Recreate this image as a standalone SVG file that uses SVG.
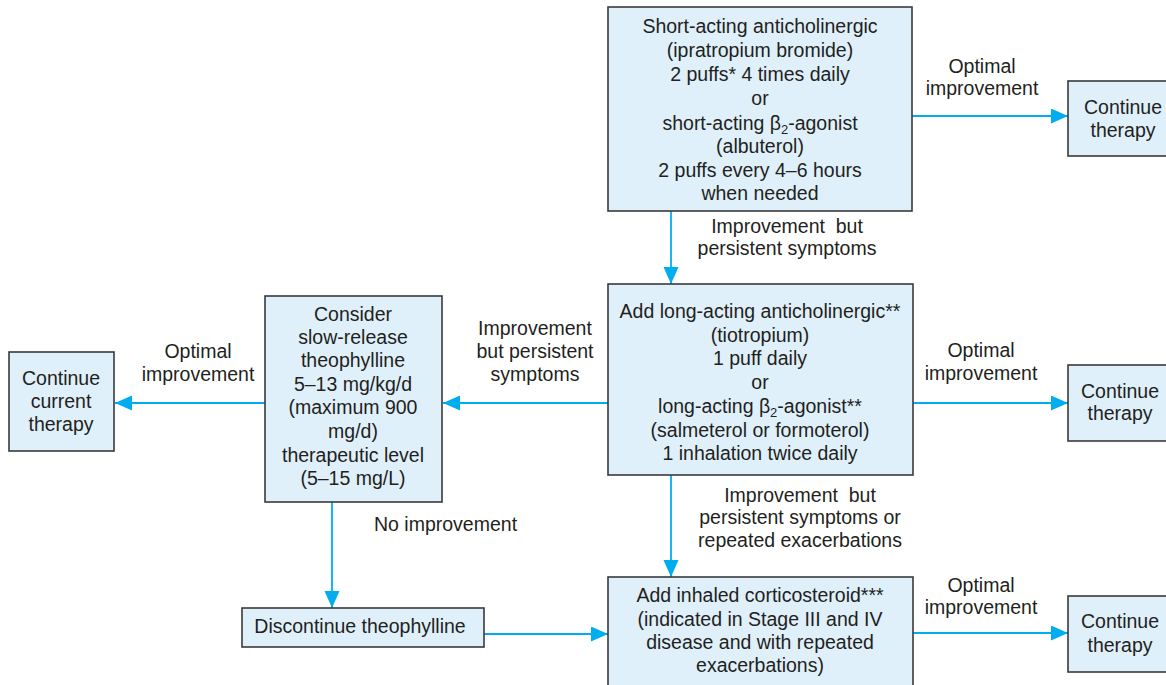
<svg xmlns="http://www.w3.org/2000/svg" width="1166" height="685" viewBox="0 0 1166 685">
<style>
.box{fill:#dff0fb;stroke:#3a3a3a;stroke-width:1.6}
.t{font-family:"Liberation Sans",Arial,sans-serif;font-size:19.5px;fill:#231f20;text-anchor:middle}
.l{font-family:"Liberation Sans",Arial,sans-serif;font-size:19.5px;fill:#231f20;text-anchor:middle}
.c{fill:none;stroke:#00aeef;stroke-width:1.8}
.sub{font-size:13px}
.pre{white-space:pre}
</style>
<defs>
<marker id="ah" markerUnits="userSpaceOnUse" markerWidth="18" markerHeight="16" refX="17" refY="7.5" orient="auto">
<path d="M0,0 L17,7.5 L0,15 z" fill="#00aeef"/>
</marker>
</defs>
<g id="connectors">
<path class="c" d="M912,116 H1068" marker-end="url(#ah)"/>
<path class="c" d="M671,211 V284" marker-end="url(#ah)"/>
<path class="c" d="M913,403 H1068" marker-end="url(#ah)"/>
<path class="c" d="M608,403 H443" marker-end="url(#ah)"/>
<path class="c" d="M265,403 H115" marker-end="url(#ah)"/>
<path class="c" d="M332,502 V608" marker-end="url(#ah)"/>
<path class="c" d="M671,475 V577" marker-end="url(#ah)"/>
<path class="c" d="M484,634 H608" marker-end="url(#ah)"/>
<path class="c" d="M913,633 H1068" marker-end="url(#ah)"/>
</g>
<g id="labels">
<text class="l" x="982" y="73">Optimal</text>
<text class="l" x="982" y="95">improvement</text>
<text class="l pre" x="787" y="233" xml:space="preserve">Improvement  but</text>
<text class="l" x="787" y="255">persistent symptoms</text>
<text class="l" x="981" y="357">Optimal</text>
<text class="l" x="981" y="380">improvement</text>
<text class="l" x="535" y="335">Improvement</text>
<text class="l" x="535" y="358">but persistent</text>
<text class="l" x="535" y="381">symptoms</text>
<text class="l" x="198" y="358">Optimal</text>
<text class="l" x="198" y="381">improvement</text>
<text class="l" x="374" y="531" style="text-anchor:start">No improvement</text>
<text class="l pre" x="800" y="502" xml:space="preserve">Improvement  but</text>
<text class="l" x="800" y="524">persistent symptoms or</text>
<text class="l" x="800" y="547">repeated exacerbations</text>
<text class="l" x="981" y="592">Optimal</text>
<text class="l" x="981" y="614">improvement</text>
</g>
<g id="short-acting">
<rect class="box" x="608" y="7" width="304" height="204"/>
<text class="t" x="760" y="33">Short-acting anticholinergic</text>
<text class="t" x="760" y="57">(ipratropium bromide)</text>
<text class="t" x="760" y="81">2 puffs* 4 times daily</text>
<text class="t" x="760" y="105">or</text>
<text class="t" x="760" y="130">short-acting β<tspan class="sub" dy="4">2</tspan><tspan dy="-4">-agonist</tspan></text>
<text class="t" x="760" y="153">(albuterol)</text>
<text class="t" x="760" y="177">2 puffs every 4–6 hours</text>
<text class="t" x="760" y="200">when needed</text>
</g>
<g id="continue-1">
<rect class="box" x="1068" y="81" width="110" height="75"/>
<text class="t" x="1123" y="114">Continue</text>
<text class="t" x="1123" y="137">therapy</text>
</g>
<g id="long-acting">
<rect class="box" x="608" y="284" width="305" height="191"/>
<text class="t" x="760" y="318">Add long-acting anticholinergic**</text>
<text class="t" x="760" y="342">(tiotropium)</text>
<text class="t" x="760" y="365">1 puff daily</text>
<text class="t" x="760" y="389">or</text>
<text class="t" x="760" y="413">long-acting β<tspan class="sub" dy="4">2</tspan><tspan dy="-4">-agonist**</tspan></text>
<text class="t" x="760" y="437">(salmeterol or formoterol)</text>
<text class="t" x="760" y="460">1 inhalation twice daily</text>
</g>
<g id="continue-2">
<rect class="box" x="1068" y="365" width="105" height="76"/>
<text class="t" x="1120" y="398">Continue</text>
<text class="t" x="1120" y="420">therapy</text>
</g>
<g id="theophylline">
<rect class="box" x="265" y="296" width="177" height="206"/>
<text class="t" x="353" y="321">Consider</text>
<text class="t" x="353" y="344">slow-release</text>
<text class="t" x="353" y="367">theophylline</text>
<text class="t" x="353" y="391">5–13 mg/kg/d</text>
<text class="t" x="353" y="414">(maximum 900</text>
<text class="t" x="353" y="438">mg/d)</text>
<text class="t" x="353" y="462">therapeutic level</text>
<text class="t" x="353" y="485">(5–15 mg/L)</text>
</g>
<g id="continue-current">
<rect class="box" x="9" y="352" width="105" height="99"/>
<text class="t" x="61" y="385">Continue</text>
<text class="t" x="61" y="408">current</text>
<text class="t" x="61" y="431">therapy</text>
</g>
<g id="discontinue">
<rect class="box" x="242" y="608" width="242" height="39"/>
<text class="t" x="360" y="633">Discontinue theophylline</text>
</g>
<g id="corticosteroid">
<rect class="box" x="608" y="577" width="305" height="120"/>
<text class="t" x="760" y="602">Add inhaled corticosteroid***</text>
<text class="t" x="760" y="626">(indicated in Stage III and IV</text>
<text class="t" x="760" y="649">disease and with repeated</text>
<text class="t" x="760" y="672">exacerbations)</text>
</g>
<g id="continue-3">
<rect class="box" x="1068" y="596" width="105" height="76"/>
<text class="t" x="1120" y="628">Continue</text>
<text class="t" x="1120" y="652">therapy</text>
</g>
</svg>
